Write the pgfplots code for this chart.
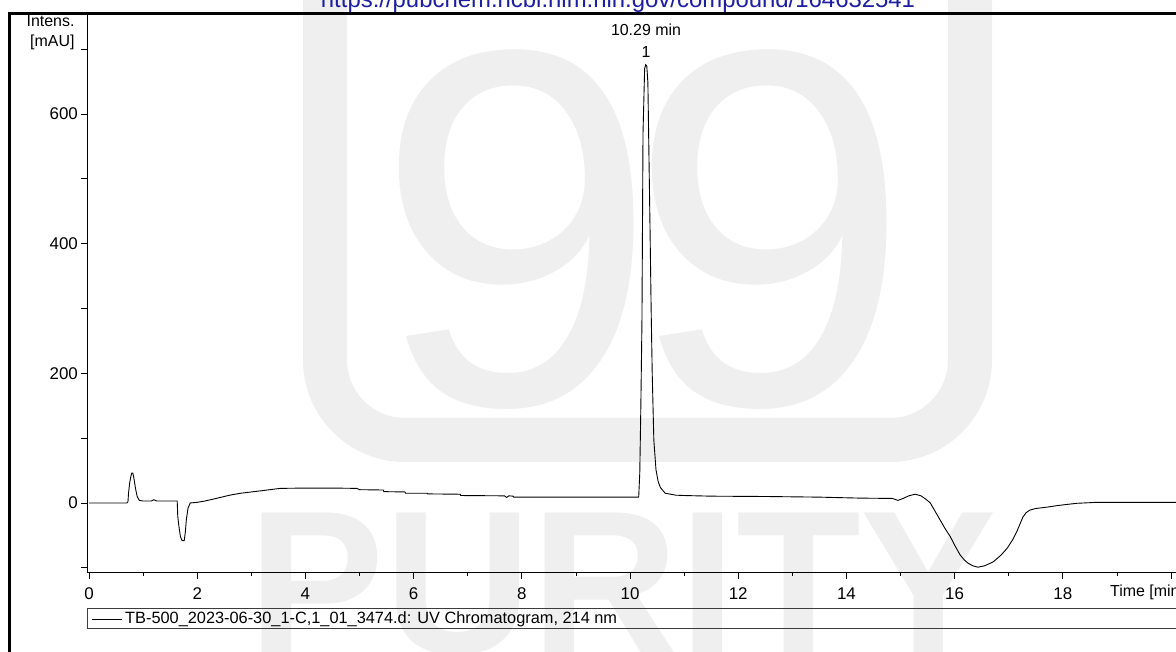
\documentclass[border=0pt]{standalone}
\usepackage{pgfplots}
\pgfplotsset{compat=1.18}
\usepackage{fontspec}
\setmainfont{Liberation Sans}
\definecolor{urlblue}{RGB}{30,30,160}
\definecolor{legline}{RGB}{60,60,60}
\definecolor{wmark}{RGB}{239,239,239}

\begin{document}
\begin{tikzpicture}[x=1bp,y=1bp]
\clip (0,0) rectangle (1176,652);
\fill[white] (0,0) rectangle (1176,652);

% watermark (logo behind the chart)
\draw[wmark, line width=44bp, rounded corners=80bp] (325,760) -- (325,212) -- (970,212) -- (970,760);
\node[wmark, font=\fontsize{510}{510}\selectfont, anchor=base, inner sep=0pt] at (517,247) {9};
\node[wmark, font=\fontsize{510}{510}\selectfont, anchor=base, inner sep=0pt] at (770,247) {9};
\node[wmark, font=\bfseries\fontsize{205}{205}\selectfont, anchor=base west, inner sep=0pt] at (248,-2) {PURITY};

\begin{axis}[
    at={(87.4bp,79bp)}, anchor=south west,
    x=54.1bp, y=0.6483bp,
    xmin=-0.03, xmax=20.5,
    ymin=-108, ymax=756,
    axis x line*=bottom, axis y line*=left,
    axis line style={black, line width=1bp},
    tick align=outside,
    xtick={0,2,...,20},
    xticklabels={0,2,4,6,8,10,12,14,16,18,{}},
    minor xtick={1,3,...,19},
    ytick={0,200,400,600},
    extra y ticks={-100,100,300,500,700},
    extra y tick labels={},
    major tick length=6bp, minor tick length=3bp,
    tick style={black, line width=0.8bp},
    ticklabel style={font=\fontsize{17}{20}\selectfont},
    xticklabel style={yshift=-5bp},
    /pgf/number format/assume math mode=true,
]
\addplot[black, line width=0.9bp] coordinates {
  (0,0) (0.70,0) (0.72,2) (0.73,15) (0.75,30) (0.77,40) (0.79,46) (0.81,46)
  (0.83,38) (0.86,22) (0.89,10) (0.93,4) (1.0,3) (1.15,3) (1.2,5) (1.25,3)
  (1.5,3) (1.63,3) (1.64,-20) (1.66,-35) (1.69,-52) (1.72,-58) (1.76,-58)
  (1.78,-45) (1.80,-25) (1.83,-8) (1.87,0) (2.0,1) (2.14,3) (2.3,6) (2.45,9)
  (2.6,12) (2.8,15) (3.0,17) (3.2,19) (3.53,22.5) (4.0,23) (4.5,23) (4.95,22.5)
  (5.0,20.5) (5.44,20) (5.45,17.5) (5.84,17) (5.85,15) (6.25,15) (6.26,14)
  (6.86,13.5) (6.87,11.5) (7.68,11) (7.72,8.5) (7.76,11) (7.84,10.5) (7.85,9)
  (10.16,9) (10.18,46) (10.20,150) (10.22,278) (10.24,571) (10.27,670)
  (10.29,676) (10.31,674) (10.33,648) (10.35,534) (10.37,421) (10.39,300)
  (10.41,200) (10.44,97) (10.48,51) (10.52,33) (10.56,24) (10.65,15)
  (10.85,12) (11.0,11.5) (11.5,10.5) (12.5,10) (13.5,9) (14.25,7.5)
  (14.85,7) (14.95,4) (15.05,7) (15.15,11) (15.27,13.5) (15.38,11) (15.48,5)
  (15.55,0) (15.64,-13) (15.73,-26) (15.82,-39) (15.92,-52) (16.0,-65)
  (16.1,-80) (16.18,-88) (16.25,-93) (16.34,-97) (16.43,-99) (16.55,-97)
  (16.71,-91) (16.85,-81) (16.97,-70) (17.07,-57) (17.15,-44) (17.21,-32)
  (17.26,-22) (17.32,-15) (17.39,-11) (17.5,-8.5) (17.7,-6.5) (17.9,-4)
  (18.1,-2) (18.26,-0.5) (18.63,1) (20.5,1)
};
\end{axis}

% annotations and labels
\node[font=\fontsize{16}{19}\selectfont] at (646,622) {10.29 min};
\node[font=\fontsize{16}{19}\selectfont] at (646,600) {1};
\node[anchor=east, font=\fontsize{16}{19}\selectfont] at (78,631) {Intens.};
\node[anchor=east, font=\fontsize{16}{19}\selectfont] at (78,610) {[mAU]};
\node[anchor=west, font=\fontsize{16}{19}\selectfont, inner sep=0pt] at (1110,60) {Time [min]};
\node[anchor=base, font=\fontsize{24}{28}\selectfont, text=urlblue, inner sep=0pt] at (618,644) {https://pubchem.ncbi.nlm.nih.gov/compound/164632541};

% legend box
\draw[legline, line width=1bp] (87.4,43) rectangle (1200,23);
\draw[black, line width=0.9bp] (92,33) -- (122,33);
\node[anchor=west, font=\fontsize{16.4}{19}\selectfont, inner sep=0pt] at (125,33) {TB-500\_2023-06-30\_1-C,1\_01\_3474.d: UV Chromatogram, 214 nm};

% outer frame
\draw[black, line width=3bp] (9.5,-5) -- (9.5,638.5) -- (1190,638.5);
\end{tikzpicture}
\end{document}
